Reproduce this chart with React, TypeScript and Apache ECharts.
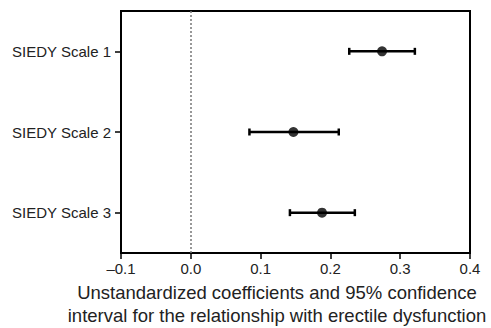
import React, { useEffect, useRef } from "react";
import * as echarts from "echarts";

const categories = ["SIEDY Scale 1", "SIEDY Scale 2", "SIEDY Scale 3"];
const estimates = [0.274, 0.147, 0.188];
const lowerCI = [0.227, 0.084, 0.142];
const upperCI = [0.321, 0.212, 0.235];
const xTicks = { min: -0.1, max: 0.4, interval: 0.1 };
const axisTitle1 = "Unstandardized coefficients and 95% confidence";
const axisTitle2 = "interval for the relationship with erectile dysfunction";

const FONT = "'Liberation Sans', Arial, Helvetica, sans-serif";

export default function App() {
  const ref = useRef<HTMLDivElement>(null);
  useEffect(() => {
    if (!ref.current) return;
    const chart = echarts.init(ref.current, undefined, { renderer: "svg" });
    const errData = categories.map((c, i) => [lowerCI[i], upperCI[i], i]);
    const pointData = categories.map((c, i) => [estimates[i], c]);
    chart.setOption({
      animation: false,
      grid: {
        left: 121,
        right: 21,
        top: 11,
        bottom: 75,
        show: true,
        borderColor: "#000",
        borderWidth: 2,
        backgroundColor: "transparent",
      },
      xAxis: {
        type: "value",
        min: xTicks.min,
        max: xTicks.max,
        interval: xTicks.interval,
        splitLine: { show: false },
        axisLine: { show: true, onZero: false, lineStyle: { color: "#000", width: 2 } },
        axisTick: { show: true, length: 6, lineStyle: { color: "#000", width: 1.5 } },
        axisLabel: {
          margin: 8,
          color: "#222",
          fontSize: 15,
          fontFamily: FONT,
          formatter: (v: number) => (v < 0 ? "\u2013" + Math.abs(v).toFixed(1) : v.toFixed(1)),
        },
      },
      yAxis: {
        type: "category",
        data: categories,
        inverse: true,
        boundaryGap: true,
        axisLine: { show: true, onZero: false, lineStyle: { color: "#000", width: 2 } },
        axisTick: { show: true, alignWithLabel: true, length: 6, lineStyle: { color: "#000", width: 1.5 } },
        axisLabel: { margin: 10, color: "#222", fontSize: 15, fontFamily: FONT },
        splitLine: { show: false },
      },
      graphic: [
        {
          type: "text",
          x: 277,
          y: 292,
          style: {
            text: axisTitle1,
            fontSize: 18.5,
            fontFamily: FONT,
            fill: "#222",
            textAlign: "center",
            textVerticalAlign: "middle",
          },
        },
        {
          type: "text",
          x: 277,
          y: 315,
          style: {
            text: axisTitle2,
            fontSize: 18.5,
            fontFamily: FONT,
            fill: "#222",
            textAlign: "center",
            textVerticalAlign: "middle",
          },
        },
      ],
      series: [
        {
          type: "custom",
          data: errData,
          encode: { x: [0, 1], y: 2 },
          renderItem: (params: any, api: any) => {
            const idx = api.value(2);
            const p1 = api.coord([api.value(0), idx]);
            const p2 = api.coord([api.value(1), idx]);
            const h = 3.5;
            const style = { stroke: "#000", lineWidth: 2.5 };
            return {
              type: "group",
              children: [
                { type: "line", shape: { x1: p1[0], y1: p1[1], x2: p2[0], y2: p2[1] }, style },
                { type: "line", shape: { x1: p1[0], y1: p1[1] - h, x2: p1[0], y2: p1[1] + h }, style },
                { type: "line", shape: { x1: p2[0], y1: p2[1] - h, x2: p2[0], y2: p2[1] + h }, style },
              ],
            };
          },
          z: 3,
        },
        {
          type: "scatter",
          data: pointData,
          symbol: "circle",
          symbolSize: 10,
          itemStyle: { color: "#000" },
          z: 4,
          markLine: {
            silent: true,
            symbol: "none",
            label: { show: false },
            lineStyle: { color: "#777", type: [2, 2], width: 1.5 },
            data: [{ xAxis: 0 }],
          },
        },
      ],
    });
    return () => chart.dispose();
  }, []);
  return <div ref={ref} style={{ width: 491, height: 328, position: "absolute", left: 0, top: 0 }} />;
}
